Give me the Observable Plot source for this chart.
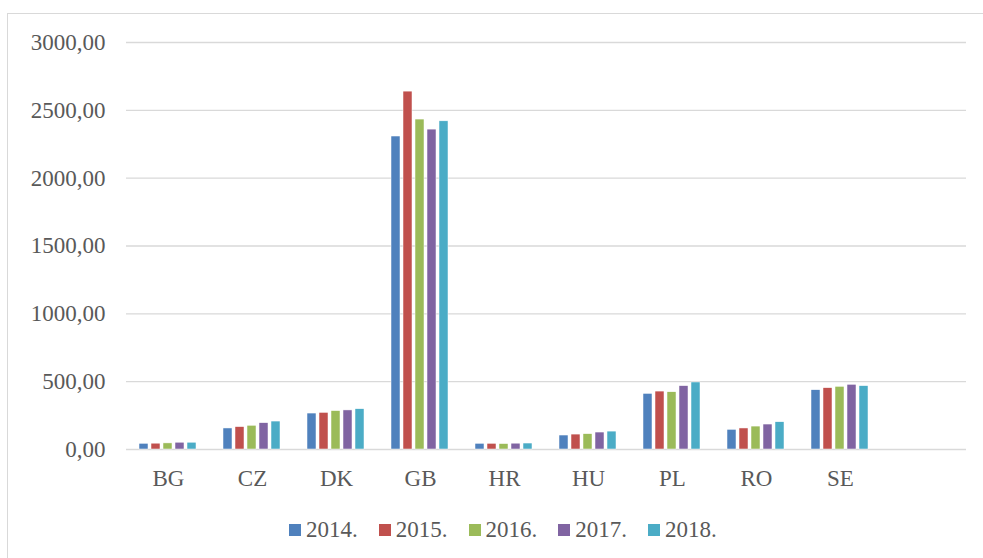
<!DOCTYPE html>
<html>
<head>
<meta charset="utf-8">
<script src="https://cdn.jsdelivr.net/npm/d3@7"></script>
<script src="https://cdn.jsdelivr.net/npm/@observablehq/plot@0.6"></script>
<style>
  body { margin: 0; background: #fff; }
  #wrap { position: relative; width: 983px; height: 558px; overflow: hidden;
          font-family: "Liberation Serif", "Times New Roman", serif; }
  #frame { position: absolute; left: 7px; top: 13px; width: 1000px; height: 700px;
           border: 1px solid #d9d9d9; box-sizing: border-box; }
  #chart { position: absolute; left: 0; top: 0; }
  #legend { position: absolute; left: 289px; top: 515px; display: flex; gap: 21px;
            font-size: 23px; color: #595959; line-height: 30px; }
  .item { display: flex; align-items: center; gap: 5px; }
  .sw { width: 12px; height: 12px; display: inline-block; }
</style>
</head>
<body>
<div id="wrap">
  <div id="frame"></div>
  <div id="chart"></div>
  <div id="legend"></div>
</div>
<script>
const categories = ["BG", "CZ", "DK", "GB", "HR", "HU", "PL", "RO", "SE"];
const years = ["2014.", "2015.", "2016.", "2017.", "2018."];
const v2014 = [42, 155, 265, 2307, 42, 103, 410, 145, 437];
const v2015 = [43, 165, 270, 2638, 42, 110, 427, 155, 452];
const v2016 = [45, 175, 283, 2432, 40, 113, 422, 169, 462];
const v2017 = [50, 194, 288, 2358, 43, 125, 467, 184, 477];
const v2018 = [50, 206, 297, 2419, 44, 132, 494, 201, 467];
const yTicks = [0, 500, 1000, 1500, 2000, 2500, 3000];
const colors = ["#4f81bd", "#c0504d", "#9bbb59", "#8064a2", "#4bacc6"];
// the reference axis has one extra, empty category slot after SE
const slots = [...categories, " "];

const series = [v2014, v2015, v2016, v2017, v2018];
const data = [];
categories.forEach((c, i) => {
  years.forEach((y, j) => data.push({cat: c, year: y, value: series[j][i]}));
});
// gridlines drawn in every category slot (including the empty one)
const grid = slots.flatMap(s => yTicks.map(t => ({slot: s, t})));

const fmt = d => d.toFixed(2).replace(".", ",");

const chart = Plot.plot({
  width: 983,
  height: 505,
  marginLeft: 124,
  marginRight: 15,
  marginTop: 42,
  marginBottom: 56,
  style: {fontFamily: '"Liberation Serif", "Times New Roman", serif', fontSize: "23px", color: "#595959", background: "transparent"},
  fx: {domain: slots, padding: 0, label: null, axis: "bottom", tickSize: 0, tickPadding: 20},
  x: {domain: years, axis: null, paddingInner: 0.22, paddingOuter: 0.864},
  y: {domain: [0, 3000], ticks: yTicks, tickFormat: fmt, tickSize: 0, tickPadding: 21, label: null},
  color: {domain: years, range: colors},
  marks: [
    Plot.ruleY(grid, {fx: "slot", y: "t", stroke: "#d9d9d9", strokeWidth: 1.3}),
    Plot.barY(data, {fx: "cat", x: "year", y: "value", fill: "year", stroke: "#ffffff", strokeWidth: 0.5})
  ]
});
document.getElementById("chart").appendChild(chart);

const legend = document.getElementById("legend");
years.forEach((y, j) => {
  const it = document.createElement("div");
  it.className = "item";
  const sw = document.createElement("span");
  sw.className = "sw";
  sw.style.background = colors[j];
  const t = document.createElement("span");
  t.textContent = y;
  it.appendChild(sw);
  it.appendChild(t);
  legend.appendChild(it);
});
</script>
</body>
</html>
